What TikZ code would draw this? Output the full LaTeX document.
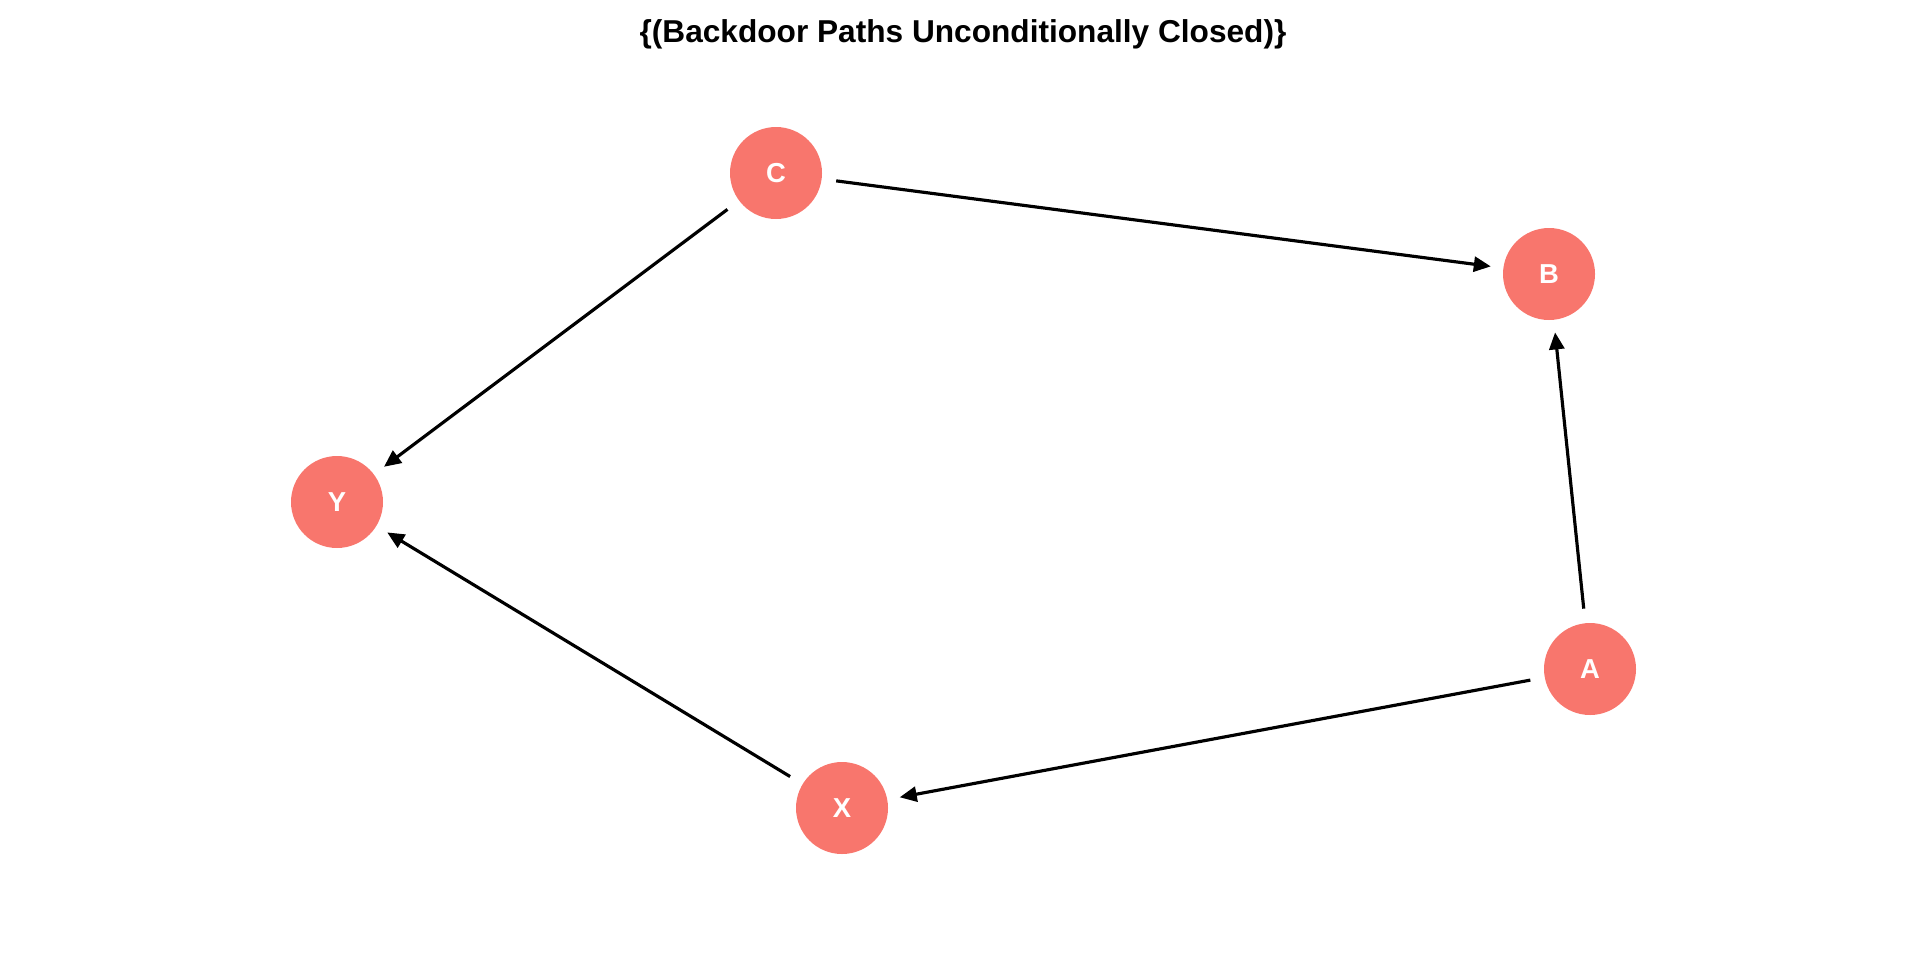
\documentclass[tikz,border=0pt]{standalone}
\usepackage{fontspec}
\setmainfont{Liberation Sans}
\usepackage{xcolor}
\usetikzlibrary{arrows.meta, positioning}

\definecolor{dagred}{HTML}{F8766D}

\begin{document}
\begin{tikzpicture}[
      every node/.style={circle, fill=dagred, draw=none, minimum size=0.92cm, inner sep=0pt, text=white, font=\fontsize{7.8}{9}\selectfont\bfseries},
      arrow/.style={-{Triangle[length=0.17cm, width=0.15cm]}, line width=0.9pt, shorten <=0.14cm, shorten >=0.12cm},
      title_text/.style={fill=none, rectangle, minimum size=0pt, text=black, font=\fontsize{9}{10}\selectfont\bfseries}
  ]
      \useasboundingbox (0,0) rectangle (19.2,9.6);

      % title
      \node[title_text] (title) at (9.63,9.26) {\{(Backdoor Paths Unconditionally Closed)\}};

      % nodes
      \node (C) at (7.76,7.87) {C};
      \node (B) at (15.49,6.86) {B};
      \node (Y) at (3.37,4.58) {Y};
      \node (A) at (15.90,2.91) {A};
      \node (X) at (8.42,1.52) {X};

      % edges
      \draw[arrow] (C) -- (B);
      \draw[arrow] (C) -- (Y);
      \draw[arrow] (A) -- (B);
      \draw[arrow] (A) -- (X);
      \draw[arrow] (X) -- (Y);
  \end{tikzpicture}
\end{document}
